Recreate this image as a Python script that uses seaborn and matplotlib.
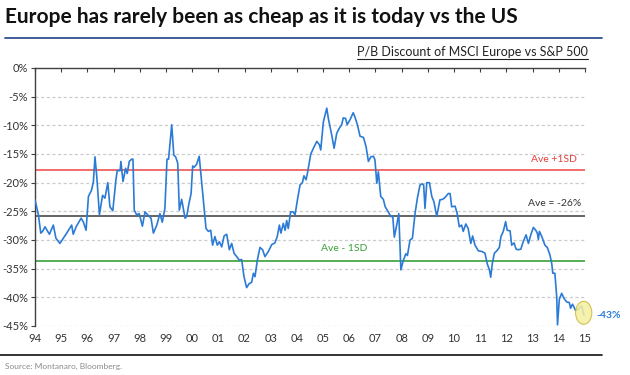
import matplotlib
matplotlib.use('Agg')
import matplotlib.pyplot as plt
from matplotlib.lines import Line2D
from matplotlib.patches import Ellipse
import seaborn as sns
import pandas as pd

# P/B discount of MSCI Europe vs S&P 500 (decimal year, %)
years = [
    1994.00, 1994.13, 1994.22, 1994.29, 1994.38, 1994.55, 1994.70, 1994.80, 1994.95,
    1995.21, 1995.40, 1995.46, 1995.57, 1995.76, 1995.84, 1995.95,
    1996.04, 1996.16, 1996.23, 1996.29, 1996.36, 1996.46, 1996.58, 1996.67, 1996.78, 1996.86, 1996.97,
    1997.09, 1997.14, 1997.25, 1997.28, 1997.36, 1997.46, 1997.52, 1997.60, 1997.69, 1997.74, 1997.79, 1997.88, 1997.98,
    1998.10, 1998.20, 1998.35, 1998.43, 1998.52, 1998.65, 1998.77, 1998.86, 1998.96,
    1999.04, 1999.10, 1999.22, 1999.30, 1999.37, 1999.45, 1999.51, 1999.60, 1999.73, 1999.79, 1999.88, 1999.96,
    2000.02, 2000.08, 2000.17, 2000.27, 2000.36, 2000.46, 2000.53, 2000.62, 2000.71, 2000.78, 2000.87, 2000.96,
    2001.04, 2001.13, 2001.22, 2001.32, 2001.42, 2001.51, 2001.60, 2001.70, 2001.80, 2001.89, 2001.98,
    2002.08, 2002.18, 2002.27, 2002.34, 2002.40, 2002.49, 2002.59, 2002.69, 2002.78, 2002.91,
    2003.04, 2003.16, 2003.25, 2003.33, 2003.39, 2003.48, 2003.55, 2003.61, 2003.67, 2003.76, 2003.86, 2003.93,
    2004.02, 2004.12, 2004.21, 2004.27, 2004.35, 2004.40, 2004.53, 2004.63, 2004.76, 2004.86, 2004.91,
    2005.01, 2005.14, 2005.20, 2005.33, 2005.42, 2005.52, 2005.62, 2005.71, 2005.77, 2005.86, 2005.92,
    2006.03, 2006.15, 2006.22, 2006.31, 2006.41, 2006.54, 2006.64, 2006.73, 2006.82, 2006.92, 2006.98,
    2007.05, 2007.11, 2007.20, 2007.30, 2007.37, 2007.49, 2007.58, 2007.66, 2007.72, 2007.81, 2007.89, 2007.97,
    2008.06, 2008.16, 2008.22, 2008.32, 2008.41, 2008.51, 2008.60, 2008.70, 2008.79, 2008.84, 2008.89, 2008.96,
    2009.06, 2009.15, 2009.23, 2009.34, 2009.46, 2009.57, 2009.65, 2009.78, 2009.85, 2009.91,
    2010.04, 2010.12, 2010.20, 2010.29, 2010.35, 2010.45, 2010.54, 2010.64, 2010.71, 2010.80, 2010.93,
    2011.06, 2011.18, 2011.27, 2011.35, 2011.40, 2011.46, 2011.54, 2011.63, 2011.73, 2011.79, 2011.88, 2011.97,
    2012.03, 2012.14, 2012.20, 2012.29, 2012.37, 2012.45, 2012.55, 2012.64, 2012.75, 2012.84, 2012.93,
    2013.03, 2013.12, 2013.18, 2013.22, 2013.26, 2013.35, 2013.47, 2013.56, 2013.66, 2013.73, 2013.77, 2013.85, 2013.92, 2013.95,
    2014.02, 2014.11, 2014.20, 2014.30, 2014.40, 2014.45, 2014.52, 2014.58, 2014.64, 2014.74, 2014.87, 2014.96,
]
discount = [
    -23.0, -25.6, -28.8, -28.5, -27.7, -29.0, -27.4, -29.7, -30.6,
    -28.8, -27.4, -29.0, -27.7, -26.2, -26.8, -28.3,
    -22.4, -21.3, -19.8, -15.5, -19.0, -25.6, -22.2, -22.7, -20.0, -24.2, -24.9,
    -19.5, -17.9, -17.9, -16.3, -19.8, -17.5, -18.4, -16.3, -15.9, -15.9, -24.8, -25.6, -25.4,
    -27.6, -25.1, -25.8, -26.2, -28.8, -27.4, -25.4, -26.9, -24.5,
    -15.9, -15.9, -9.9, -15.2, -15.5, -16.6, -24.8, -22.9, -26.2, -25.9, -23.6, -21.9,
    -17.1, -17.3, -16.8, -15.4, -19.8, -24.8, -28.0, -28.5, -28.3, -30.9, -29.4, -30.9,
    -30.3, -31.2, -29.3, -29.0, -31.7, -30.6, -32.3, -32.9, -33.5, -33.4, -36.4,
    -38.3, -37.6, -37.4, -35.8, -36.4, -33.5, -31.3, -31.7, -32.9, -32.0,
    -30.8, -30.5, -29.4, -27.4, -28.8, -27.1, -28.3, -26.6, -28.0, -25.1, -25.1, -25.6,
    -23.0, -20.4, -20.0, -18.8, -19.5, -18.4, -15.0, -14.0, -12.8, -13.4, -14.3,
    -9.4, -7.0, -8.8, -11.7, -14.0, -11.4, -10.5, -9.9, -8.7, -8.8, -9.9,
    -9.0, -7.8, -8.6, -9.9, -11.9, -12.1, -13.7, -16.3, -15.5, -15.4, -16.0,
    -20.1, -18.1, -22.4, -22.9, -24.2, -25.1, -25.9, -25.9, -29.5, -27.4, -25.4, -35.2,
    -33.6, -32.4, -32.7, -30.0, -29.7, -25.4, -22.7, -20.4, -20.2, -20.4, -24.5, -20.0,
    -20.0, -22.4, -23.3, -25.9, -23.0, -22.9, -22.6, -21.9, -21.9, -24.2,
    -24.1, -25.4, -27.7, -27.4, -28.5, -27.2, -28.0, -30.6, -29.3, -30.9, -31.9,
    -32.0, -32.3, -34.2, -35.2, -36.5, -34.1, -32.3, -31.9, -31.3, -29.4, -28.5, -26.8,
    -28.3, -28.4, -30.9, -30.5, -31.6, -31.7, -31.6, -30.3, -29.1, -30.6, -29.1,
    -27.8, -28.3, -28.8, -29.9, -28.5, -29.4, -30.9, -31.3, -32.6, -34.1, -35.8, -35.8, -39.9, -44.8,
    -40.3, -39.3, -40.2, -40.8, -40.9, -41.9, -41.2, -41.7, -42.3, -42.1, -41.5, -43.1,
]
ave_plus_sd = -17.8
ave = -25.8
ave_minus_sd = -33.6
latest_label = '-43%'

year_ticks = list(range(1994, 2016))
year_labels = [str(y)[2:] for y in year_ticks]
pct_ticks = list(range(0, -50, -5))

df = pd.DataFrame({'year': years, 'discount': discount})

sns.set_style('white')
plt.rcParams['font.family'] = ['Lato', 'DejaVu Sans']

fig = plt.figure(figsize=(6.3, 3.75), dpi=100)
ax = fig.add_axes([35 / 630, 1 - 326 / 375, 550 / 630, 258 / 375])

for t in pct_ticks[1:]:
    ax.axhline(t, color='#cccccc', lw=0.9, ls=(0, (2.5, 2)), zorder=0)

ax.axhline(ave_plus_sd, color='#f26b6b', lw=1.4, zorder=1)
ax.axhline(ave, color='#4a4a4a', lw=1.2, zorder=1)
ax.axhline(ave_minus_sd, color='#3aa03a', lw=1.2, zorder=1)

sns.lineplot(data=df, x='year', y='discount', ax=ax, color='#2b7bd6', lw=1.2, zorder=3)

ax.add_patch(Ellipse((2014.95, -42.7), 0.62, 4.0, facecolor='#f5f0a0',
                     edgecolor='#c8b840', lw=0.8, alpha=0.85, zorder=4, clip_on=False))

ax.set_xlim(1994, 2015)
ax.set_ylim(-45, 0)
ax.set_xticks(year_ticks)
ax.set_xticklabels(year_labels)
ax.set_yticks(pct_ticks)
ax.set_yticklabels([f'{t}%' for t in pct_ticks])
ax.set_xlabel('')
ax.set_ylabel('')

for s in ['bottom', 'right']:
    ax.spines[s].set_visible(False)
for s in ['left', 'top']:
    ax.spines[s].set_color('#404040')
    ax.spines[s].set_linewidth(1.0)

ax.tick_params(axis='x', bottom=False, top=True, labelbottom=True, labeltop=False,
               direction='in', length=3, width=0.8, color='#404040',
               labelsize=8, labelcolor='#333333', pad=5)
ax.tick_params(axis='y', left=True, direction='out', length=3, width=0.8,
               color='#404040', labelsize=8, labelcolor='#333333', pad=2)

ax.text(2013.8, -16.8, 'Ave +1SD', color='#e0403c', fontsize=7.5, ha='center', va='bottom')
ax.text(2013.85, -24.5, 'Ave = -26%', color='#333333', fontsize=7.5, ha='center', va='bottom')
ax.text(2005.8, -32.2, 'Ave - 1SD', color='#3aa03a', fontsize=7.5, ha='center', va='bottom')
ax.text(2015.45, -43.2, latest_label, color='#2b7bd6', fontsize=7.5, fontweight='bold',
        ha='left', va='center', clip_on=False)

# title, rules and source
fig.text(5 / 630, 1 - 17 / 375, 'Europe has rarely been as cheap as it is today vs the US',
         fontsize=15, fontweight='bold', color='#111111', ha='left', va='center')
fig.add_artist(Line2D([5 / 630, 602 / 630], [1 - 38 / 375] * 2, color='#2f4f8f', lw=1.3))

sub = fig.text(588 / 630, 1 - 52 / 375, 'P/B Discount of MSCI Europe vs S&P 500',
               fontsize=9, color='#222222', ha='right', va='center')
fig.canvas.draw()
bb = sub.get_window_extent().transformed(fig.transFigure.inverted())
fig.add_artist(Line2D([bb.x0, bb.x1], [bb.y0 - 0.002] * 2, color='#222222', lw=0.8))

fig.add_artist(Line2D([0, 602 / 630], [1 - 355 / 375] * 2, color='#111111', lw=1.2))
fig.text(5 / 630, 1 - 366 / 375, 'Source: Montanaro, Bloomberg.', fontsize=6,
         color='#8a8a8a', ha='left', va='center')

fig.savefig('out.png', dpi=100)
